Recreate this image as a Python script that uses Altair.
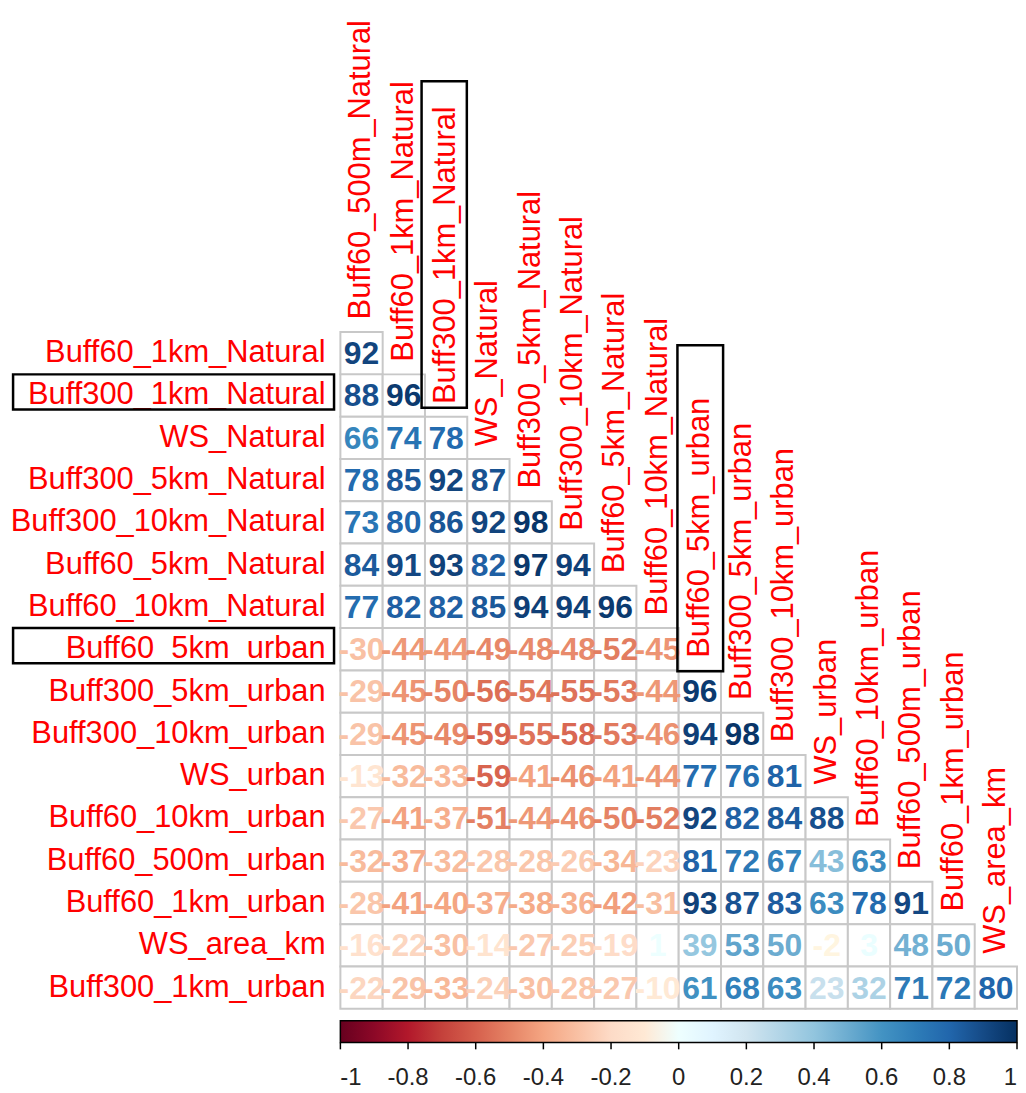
import altair as alt
import pandas as pd

# variable order of the correlation matrix (rows = vars[1:], columns = vars[:-1])
variables = [
    "Buff60_500m_Natural", "Buff60_1km_Natural", "Buff300_1km_Natural", "WS_Natural",
    "Buff300_5km_Natural", "Buff300_10km_Natural", "Buff60_5km_Natural", "Buff60_10km_Natural",
    "Buff60_5km_urban", "Buff300_5km_urban", "Buff300_10km_urban", "WS_urban",
    "Buff60_10km_urban", "Buff60_500m_urban", "Buff60_1km_urban", "WS_area_km",
    "Buff300_1km_urban",
]

# lower triangle, correlation x 100 as printed
corr_rows = [
    [92],
    [88, 96],
    [66, 74, 78],
    [78, 85, 92, 87],
    [73, 80, 86, 92, 98],
    [84, 91, 93, 82, 97, 94],
    [77, 82, 82, 85, 94, 94, 96],
    [-30, -44, -44, -49, -48, -48, -52, -45],
    [-29, -45, -50, -56, -54, -55, -53, -44, 96],
    [-29, -45, -49, -59, -55, -58, -53, -46, 94, 98],
    [-13, -32, -33, -59, -41, -46, -41, -44, 77, 76, 81],
    [-27, -41, -37, -51, -44, -46, -50, -52, 92, 82, 84, 88],
    [-32, -37, -32, -28, -28, -26, -34, -23, 81, 72, 67, 43, 63],
    [-28, -41, -40, -37, -38, -36, -42, -31, 93, 87, 83, 63, 78, 91],
    [-16, -22, -30, -14, -27, -25, -19, 1, 39, 53, 50, -2, 3, 48, 50],
    [-22, -29, -33, -24, -30, -28, -27, -10, 61, 68, 63, 23, 32, 71, 72, 80],
]

highlighted = ["Buff300_1km_Natural", "Buff60_5km_urban"]

legend_ticks = [-1, -0.8, -0.6, -0.4, -0.2, 0, 0.2, 0.4, 0.6, 0.8, 1]
rdbu = ["#67001F", "#B2182B", "#D6604D", "#F4A582", "#FDDBC7", "#FFFFFF",
        "#D1E5F0", "#92C5DE", "#4393C3", "#2166AC", "#053061"]

row_names = variables[1:]
col_names = variables[:-1]
n = len(row_names)

cells = pd.DataFrame([
    {"i": i, "j": j, "x0": j, "x1": j + 1, "y0": i, "y1": i + 1,
     "xc": j + 0.5, "yc": i + 0.5, "label": str(v), "r": v / 100}
    for i, vals in enumerate(corr_rows) for j, v in enumerate(vals)
])
row_lab = pd.DataFrame({"name": row_names, "y": [i + 0.5 for i in range(n)], "x": -0.35})
col_lab = pd.DataFrame({"name": col_names, "x": [j + 0.5 for j in range(n)],
                        "y": [j - 0.3 for j in range(n)]})

# boxes drawn around the highlighted labels
row_boxes = pd.DataFrame([
    {"x0": -7.74, "x1": -0.15, "y0": row_names.index(h), "y1": row_names.index(h) + 0.83}
    for h in highlighted
])
col_boxes = pd.DataFrame([
    {"x0": 1.92, "x1": 2.99, "y0": -5.93, "y1": 1.79},
    {"x0": 7.97, "x1": 9.05, "y0": 0.31, "y1": 8.02},
])
ticks = pd.DataFrame({"x": [(t + 1) / 2 * n for t in legend_ticks], "y0": 16.8, "y1": 16.96})

xs = alt.Scale(domain=[-7.86, 16], nice=False, zero=False)
ys = alt.Scale(domain=[-7.6, 16], nice=False, zero=False, reverse=True)
X = lambda f: alt.X(f, type="quantitative", scale=xs, axis=None)
Y = lambda f: alt.Y(f, type="quantitative", scale=ys, axis=None)

font = "Liberation Sans"

grid = alt.Chart(cells).mark_rect(fill="white", stroke="#c8c8c8", strokeWidth=2).encode(
    x=X("x0"), x2="x1", y=Y("y0"), y2="y1"
)

numbers = alt.Chart(cells).mark_text(
    font=font, fontSize=32, fontWeight="bold", align="center", baseline="middle", dy=1
).encode(
    x=X("xc"), y=Y("yc"), text="label:N",
    color=alt.Color(
        "r:Q",
        scale=alt.Scale(domain=legend_ticks, range=rdbu),
        legend=alt.Legend(
            orient="none", legendX=334, legendY=1015, direction="horizontal",
            gradientLength=680, gradientThickness=22, title=None, values=legend_ticks,
            labelExpr="'' + datum.value", labelFont=font, labelFontSize=24,
            labelColor="#222222", labelOffset=24, labelAlign="center", labelOverlap=False,
            gradientStrokeColor="black", gradientStrokeWidth=1.5,
        ),
    ),
)

rlabels = alt.Chart(row_lab).mark_text(
    font=font, fontSize=31, color="red", align="right", baseline="middle"
).encode(x=X("x"), y=Y("y"), text="name:N")

clabels = alt.Chart(col_lab).mark_text(
    font=font, fontSize=31, color="red", align="left", baseline="middle", angle=270
).encode(x=X("x"), y=Y("y"), text="name:N")

rbox = alt.Chart(row_boxes).mark_rect(filled=False, stroke="black", strokeWidth=2.5).encode(
    x=X("x0"), x2="x1", y=Y("y0"), y2="y1"
)
cbox = alt.Chart(col_boxes).mark_rect(filled=False, stroke="black", strokeWidth=2.5).encode(
    x=X("x0"), x2="x1", y=Y("y0"), y2="y1"
)
tick_marks = alt.Chart(ticks).mark_rule(color="black", strokeWidth=1.5).encode(
    x=X("x"), y=Y("y0"), y2="y1"
)

chart = alt.layer(grid, numbers, rlabels, clabels, rbox, cbox, tick_marks).properties(
    width=1014, height=1003, padding=0
).configure_view(stroke=None)

chart.save("out.html", embed_options={"renderer": "svg", "actions": False})
